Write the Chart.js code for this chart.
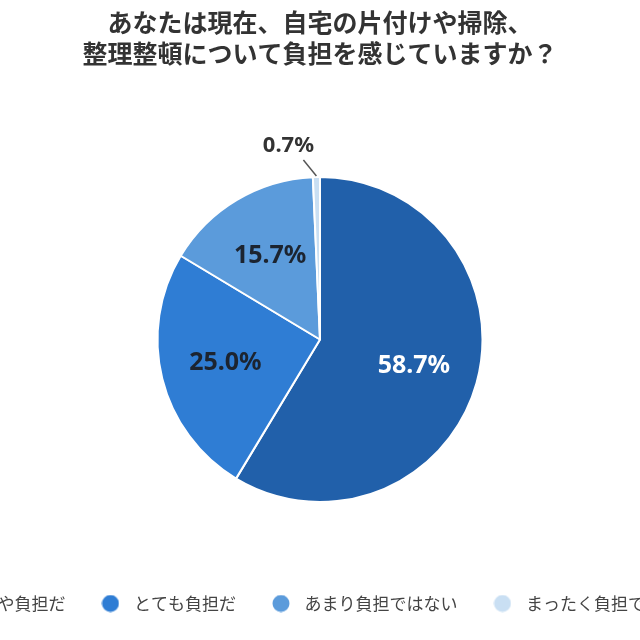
<!DOCTYPE html>
<html lang="ja">
<head>
<meta charset="utf-8">
<script src="https://cdn.jsdelivr.net/npm/chart.js@4.4.1/dist/chart.umd.min.js"></script>
<style>
  html, body { margin: 0; padding: 0; background: #fff; overflow: hidden; }
  body { width: 640px; height: 640px; position: relative; }
  #wrap { position: absolute; left: -88px; top: 0; width: 816px; height: 640px; }
</style>
</head>
<body>
<div id="wrap"><canvas id="myChart"></canvas></div>
<script>
const titleLines = ['あなたは現在、自宅の片付けや掃除、', '整理整頓について負担を感じていますか？'];
const categories = ['やや負担だ', 'とても負担だ', 'あまり負担ではない', 'まったく負担ではない'];
const shares = [58.7, 25.0, 15.7, 0.7];

const sliceColors = ['#2160aa', '#2f7dd4', '#5b9bdb', '#c9dff3'];
const labelColors = ['#ffffff', '#1c2430', '#1c2430', '#333333'];

// legend dots: small canvases so the gap to the text can be wider than the dot
const dots = sliceColors.map(c => {
    const cv = document.createElement('canvas');
    cv.width = 18; cv.height = 18;
    const g = cv.getContext('2d');
    g.fillStyle = c;
    g.beginPath();
    g.arc(9, 9, 8.5, 0, Math.PI * 2);
    g.fill();
    return cv;
});

const sliceLabels = {
    id: 'sliceLabels',
    afterDatasetsDraw(chart) {
        const ctx = chart.ctx;
        const meta = chart.getDatasetMeta(0);
        meta.data.forEach((arc, i) => {
            const p = arc.getProps(['x', 'y', 'startAngle', 'endAngle', 'outerRadius'], true);
            const mid = (p.startAngle + p.endAngle) / 2;
            const text = shares[i].toFixed(1) + '%';
            ctx.save();
            ctx.textAlign = 'center';
            ctx.textBaseline = 'middle';
            ctx.fillStyle = labelColors[i];
            if (shares[i] < 3) {
                // small slice: callout outside
                const sx = p.x + Math.cos(mid) * (p.outerRadius + 1);
                const sy = p.y + Math.sin(mid) * (p.outerRadius + 1);
                const ex = sx - 13, ey = sy - 16;
                ctx.strokeStyle = '#555';
                ctx.lineWidth = 1.5;
                ctx.beginPath();
                ctx.moveTo(sx, sy);
                ctx.lineTo(ex, ey);
                ctx.stroke();
                ctx.font = 'bold 22px "Noto Sans"';
                ctx.fillText(text, ex - 15, ey - 14);
            } else {
                const r = p.outerRadius * 0.6;
                ctx.font = 'bold 25px "Noto Sans"';
                ctx.fillText(text, p.x + Math.cos(mid) * r, p.y + Math.sin(mid) * r);
            }
            ctx.restore();
        });
    }
};

const ctx = document.getElementById('myChart').getContext('2d');
const myChart = new Chart(ctx, {
    type: 'pie',
    data: {
        labels: categories,
        datasets: [{
            data: shares,
            backgroundColor: sliceColors,
            borderColor: '#ffffff',
            borderWidth: 2
        }]
    },
    options: {
        responsive: true,
        maintainAspectRatio: false,
        animation: false,
        radius: 162.5,
        layout: { padding: { top: 0, bottom: 18, left: 0, right: 0 } },
        plugins: {
            title: {
                display: true,
                text: titleLines,
                color: '#333333',
                font: { family: '"Noto Sans CJK JP"', size: 25, weight: 'bold', lineHeight: 1.24 },
                padding: { top: 7, bottom: 45 }
            },
            legend: {
                position: 'bottom',
                align: 'start',
                labels: {
                    usePointStyle: true,
                    pointStyleWidth: 30,
                    padding: 30,
                    color: '#444444',
                    font: { family: '"Noto Sans CJK JP"', size: 17 },
                    generateLabels: chart => categories.map((c, i) => ({
                        text: c,
                        fillStyle: sliceColors[i],
                        strokeStyle: sliceColors[i],
                        lineWidth: 0,
                        pointStyle: dots[i],
                        fontColor: '#444444',
                        hidden: !chart.getDataVisibility(i),
                        index: i
                    }))
                }
            },
            tooltip: { enabled: false }
        }
    },
    plugins: [sliceLabels]
});
</script>
</body>
</html>
